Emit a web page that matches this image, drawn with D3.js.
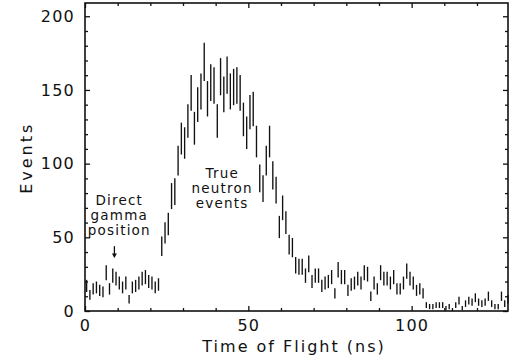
<!DOCTYPE html>
<html>
<head>
<meta charset="utf-8">
<script src="https://cdn.jsdelivr.net/npm/d3@7"></script>
<style>
  html, body { margin: 0; padding: 0; background: #fff; }
  svg { display: block; }
  text { font-family: "DejaVu Sans", sans-serif; fill: #111; }
</style>
</head>
<body>
<div id="chart"></div>
<script>
// Time-of-flight spectrum, 1 ns bins starting at 0 ns
const binWidth = 1;
const counts = [
  17, 11, 15, 16, 14, 13, 26, 15, 24, 22,
  19, 16, 19, 8, 16, 17, 19, 22, 23, 20,
  19, 16, 18, 44, 53, 59, 78, 81, 102, 117,
  114, 129, 148, 124, 140, 149, 169, 144, 155, 153,
  129, 159, 147, 160, 149, 152, 153, 148, 130, 121,
  135, 137, 115, 90, 83, 102, 115, 92, 82, 57,
  70, 60, 45, 43, 31, 30, 30, 24, 32, 20,
  24, 24, 17, 19, 20, 23, 12, 28, 23, 23,
  14, 18, 19, 22, 19, 26, 25, 10, 19, 15,
  26, 22, 22, 19, 23, 15, 15, 19, 27, 22,
  19, 14, 15, 12, 4, 3, 3, 4, 4, 4,
  2, 3, 1, 4, 7, 2, 5, 7, 6, 9,
  6, 5, 6, 10, 5, 3, 3, 10, 5, 8
];

const xMajorTicks = [0, 50, 100];
const yMajorTicks = [0, 50, 100, 150, 200];
const xLabel = 'Time of Flight (ns)';
const yLabel = 'Events';
const gammaNote = ['Direct', 'gamma', 'position'];
const gammaTime = 9;
const neutronNote = ['True', 'neutron', 'events'];

const W = 510, H = 364;
const margin = { top: 3, right: 2, bottom: 53, left: 85 };
const innerW = W - margin.left - margin.right;
const innerH = H - margin.top - margin.bottom;

const svg = d3.select('#chart').append('svg')
    .attr('width', W)
    .attr('height', H);

const g = svg.append('g')
    .attr('transform', `translate(${margin.left},${margin.top})`);

const x = d3.scaleLinear().domain([0, 129.5]).range([0, innerW]);
const y = d3.scaleLinear().domain([0, 209]).range([innerH, 0]);

// minor ticks every 10, major every 50, all pointing inward on 4 sides
const xMinor = d3.range(0, 130, 10).filter(v => v % 50 !== 0);
const yMinor = d3.range(0, 210, 10).filter(v => v % 50 !== 0);

function styleAxis(sel) {
    sel.select('.domain').remove();
    sel.selectAll('.tick line').attr('stroke', '#111').attr('stroke-width', 1.3);
}

g.append('g').attr('transform', `translate(0,${innerH})`)
    .call(d3.axisBottom(x).tickValues(xMajorTicks).tickSize(-5).tickPadding(9).tickFormat(d3.format('d')))
    .call(styleAxis);
g.append('g').attr('transform', `translate(0,${innerH})`)
    .call(d3.axisBottom(x).tickValues(xMinor).tickSize(-3).tickFormat(''))
    .call(styleAxis);
g.append('g')
    .call(d3.axisTop(x).tickValues(xMajorTicks).tickSize(-5).tickFormat(''))
    .call(styleAxis);
g.append('g')
    .call(d3.axisTop(x).tickValues(xMinor).tickSize(-3).tickFormat(''))
    .call(styleAxis);

g.append('g')
    .call(d3.axisLeft(y).tickValues(yMajorTicks).tickSize(-5).tickPadding(10).tickFormat(d3.format('d')))
    .call(styleAxis);
g.append('g')
    .call(d3.axisLeft(y).tickValues(yMinor).tickSize(-3).tickFormat(''))
    .call(styleAxis);
g.append('g').attr('transform', `translate(${innerW},0)`)
    .call(d3.axisRight(y).tickValues(yMajorTicks).tickSize(-5).tickFormat(''))
    .call(styleAxis);
g.append('g').attr('transform', `translate(${innerW},0)`)
    .call(d3.axisRight(y).tickValues(yMinor).tickSize(-3).tickFormat(''))
    .call(styleAxis);

g.selectAll('.tick text')
    .attr('font-size', 16)
    .attr('letter-spacing', 1.2)
    .attr('font-family', '"DejaVu Sans", sans-serif')
    .attr('fill', '#111');

// frame
g.append('rect')
    .attr('width', innerW)
    .attr('height', innerH)
    .attr('fill', 'none')
    .attr('stroke', '#111')
    .attr('stroke-width', 1.6);

// error bars (Poisson, sqrt N)
g.append('g').selectAll('line')
    .data(counts)
    .join('line')
    .attr('x1', (d, i) => x((i + 0.5) * binWidth))
    .attr('x2', (d, i) => x((i + 0.5) * binWidth))
    .attr('y1', d => y(Math.max(0, d - Math.sqrt(d))))
    .attr('y2', d => y(d + Math.sqrt(d)))
    .attr('stroke', '#111')
    .attr('stroke-width', 1.35);

// axis titles
svg.append('text')
    .attr('x', margin.left + x(64))
    .attr('y', 352)
    .attr('text-anchor', 'middle')
    .attr('font-size', 16)
    .attr('letter-spacing', 2)
    .text(xLabel);

svg.append('text')
    .attr('transform', `translate(32,${margin.top + y(104)}) rotate(-90)`)
    .attr('text-anchor', 'middle')
    .attr('font-size', 16)
    .attr('letter-spacing', 3)
    .text(yLabel);

// annotations
const gammaG = g.append('g');
gammaG.selectAll('text')
    .data(gammaNote)
    .join('text')
    .attr('x', x(10.5))
    .attr('y', (d, i) => y(72) + i * 15)
    .attr('text-anchor', 'middle')
    .attr('font-size', 13.5)
    .attr('letter-spacing', 1.2)
    .text(d => d);

gammaG.append('line')
    .attr('x1', x(gammaTime)).attr('x2', x(gammaTime))
    .attr('y1', y(44)).attr('y2', y(37))
    .attr('stroke', '#111').attr('stroke-width', 1.3);
gammaG.append('path')
    .attr('d', `M${x(gammaTime) - 2.5},${y(39)} L${x(gammaTime)},${y(36)} L${x(gammaTime) + 2.5},${y(39)} Z`)
    .attr('fill', '#111');

g.append('g').selectAll('text')
    .data(neutronNote)
    .join('text')
    .attr('x', x(42))
    .attr('y', (d, i) => y(90) + i * 15)
    .attr('text-anchor', 'middle')
    .attr('font-size', 13.5)
    .attr('letter-spacing', 1.2)
    .text(d => d);
</script>
</body>
</html>
